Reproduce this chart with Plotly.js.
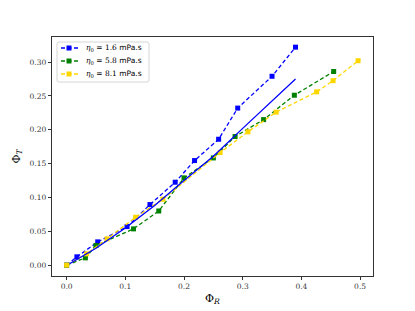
<!DOCTYPE html>
<html><head><meta charset="utf-8">
<script src="https://cdn.plot.ly/plotly-3.0.1.min.js"></script>
<style>html,body{margin:0;padding:0;background:#fff}#c{width:415px;height:311px}</style>
</head><body><div id="c"></div>
<script>
const xBlue = [0, 0.0175, 0.053, 0.103, 0.142, 0.185, 0.218, 0.259, 0.2915, 0.350, 0.390];
const yBlue = [0, 0.0123, 0.0344, 0.057, 0.0895, 0.1225, 0.1545, 0.186, 0.232, 0.279, 0.322];
const xGreen = [0, 0.032, 0.050, 0.114, 0.157, 0.200, 0.250, 0.287, 0.3356, 0.388, 0.455];
const yGreen = [0, 0.0108, 0.029, 0.0536, 0.080, 0.1289, 0.1584, 0.190, 0.215, 0.251, 0.286];
const xYellow = [0, 0.034, 0.069, 0.1175, 0.164, 0.2616, 0.309, 0.357, 0.426, 0.454, 0.4966];
const yYellow = [0, 0.0167, 0.0389, 0.0708, 0.0974, 0.1663, 0.197, 0.226, 0.256, 0.2725, 0.302];
const xFit = [0.005, 0.05, 0.1, 0.15, 0.2, 0.25, 0.3, 0.35, 0.39];
const yFit = [0.002, 0.025, 0.055, 0.088, 0.125, 0.161, 0.202, 0.243, 0.275];
const viscosities = ['1.6', '5.8', '8.1'];
const xTicks = [0, 0.1, 0.2, 0.3, 0.4, 0.5];
const xTickText = ['0.0', '0.1', '0.2', '0.3', '0.4', '0.5'];
const yTicks = [0, 0.05, 0.1, 0.15, 0.2, 0.25, 0.3];
const yTickText = ['0.00', '0.05', '0.10', '0.15', '0.20', '0.25', '0.30'];

const colors = ['#0000ff', '#008000', '#ffd700'];
const labels = viscosities.map(v => '<i>η</i><sub>0</sub> = ' + v + ' <span style="font-family:DejaVu Sans">mPa.s</span>');
const DASH = '4px,2.5px';
function series(x, y, name, col) {
  return {x: x, y: y, name: name, type: 'scatter', mode: 'lines+markers', showlegend: false,
    line: {color: col, width: 1.3, dash: DASH},
    marker: {symbol: 'square', size: 5, color: col}};
}
const data = [
  series(xBlue, yBlue, labels[0], colors[0]),
  series(xGreen, yGreen, labels[1], colors[1]),
  series(xYellow, yYellow, labels[2], colors[2]),
  {x: xFit, y: yFit, type: 'scatter', mode: 'lines', showlegend: false,
   line: {color: '#0000ff', width: 1.3}}
];

// plot area geometry (pixels) for manual legend in paper coordinates
const M = {l: 52, r: 42, t: 37, b: 35}, W = 415, H = 311;
const PW = W - M.l - M.r, PH = H - M.t - M.b;
const px = x => (x - M.l) / PW;
const py = y => 1 - (y - M.t) / PH;
const shapes = [];
const annotations = [];
// legend box with rounded corners
(function () {
  const x0 = 57, x1 = 149, y0 = 42, y1 = 82, r = 2;
  const p = `M ${px(x0 + r)},${py(y0)} L ${px(x1 - r)},${py(y0)} Q ${px(x1)},${py(y0)} ${px(x1)},${py(y0 + r)} ` +
            `L ${px(x1)},${py(y1 - r)} Q ${px(x1)},${py(y1)} ${px(x1 - r)},${py(y1)} ` +
            `L ${px(x0 + r)},${py(y1)} Q ${px(x0)},${py(y1)} ${px(x0)},${py(y1 - r)} ` +
            `L ${px(x0)},${py(y0 + r)} Q ${px(x0)},${py(y0)} ${px(x0 + r)},${py(y0)} Z`;
  shapes.push({type: 'path', xref: 'paper', yref: 'paper', path: p,
    fillcolor: 'rgba(255,255,255,0.85)', line: {color: '#cccccc', width: 0.8}, layer: 'above'});
})();
const rowY = [48, 61, 74];
labels.forEach((lab, i) => {
  const y = rowY[i];
  shapes.push({type: 'line', xref: 'paper', yref: 'paper', x0: px(61), x1: px(78), y0: py(y), y1: py(y),
    line: {color: colors[i], width: 1.3, dash: DASH}, layer: 'above'});
  shapes.push({type: 'rect', xref: 'paper', yref: 'paper', x0: px(66.5), x1: px(71.5), y0: py(y - 2.5), y1: py(y + 2.5),
    fillcolor: colors[i], line: {width: 0}, layer: 'above'});
  annotations.push({xref: 'paper', yref: 'paper', x: px(84), y: py(y), xanchor: 'left', yanchor: 'middle',
    text: lab, showarrow: false, font: {family: 'DejaVu Serif', size: 7.5, color: '#000'}});
});

const axisCommon = {showgrid: false, zeroline: false, showline: true, mirror: true,
  linecolor: '#000', linewidth: 0.8, ticks: 'outside', ticklen: 3.5, tickwidth: 0.8,
  tickcolor: '#000', tickfont: {family: 'DejaVu Serif', size: 7.5, color: '#333'}};
const layout = {
  width: W, height: H,
  margin: M,
  paper_bgcolor: '#fff', plot_bgcolor: '#fff',
  showlegend: false,
  xaxis: Object.assign({}, axisCommon, {range: [-0.0249, 0.522], tickvals: xTicks, ticktext: xTickText,
    title: {text: 'Φ<sub><i>R</i></sub>', font: {family: 'DejaVu Serif', size: 11, color: '#000'}, standoff: 3}}),
  yaxis: Object.assign({}, axisCommon, {range: [-0.016, 0.337], tickvals: yTicks, ticktext: yTickText,
    title: {text: 'Φ<sub><i>T</i></sub>', font: {family: 'DejaVu Serif', size: 11, color: '#000'}, standoff: 6}}),
  shapes: shapes,
  annotations: annotations
};
Plotly.newPlot('c', data, layout, {displayModeBar: false, staticPlot: true});
</script></body></html>
